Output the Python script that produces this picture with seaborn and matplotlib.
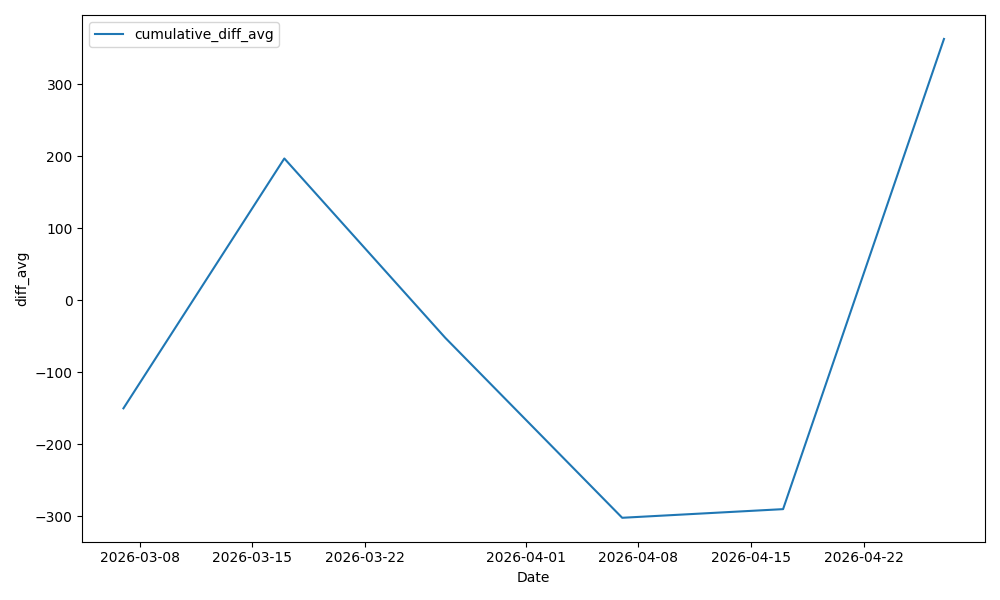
import matplotlib
matplotlib.use("Agg")
import matplotlib.pyplot as plt
import seaborn as sns
import pandas as pd

dates = ["2026-03-07", "2026-03-17", "2026-03-27", "2026-04-07", "2026-04-17", "2026-04-27"]
values = [-150, 197, -52, -302, -290, 363]

df = pd.DataFrame({"Date": pd.to_datetime(dates), "diff_avg": values})

fig, ax = plt.subplots(figsize=(10, 6), dpi=100)
sns.lineplot(data=df, x="Date", y="diff_avg", ax=ax, label="cumulative_diff_avg", color="#1f77b4")
ax.set_xlabel("Date")
ax.set_ylabel("diff_avg")
ax.legend(loc="upper left")
fig.tight_layout()
fig.savefig("out.png", dpi=100)
